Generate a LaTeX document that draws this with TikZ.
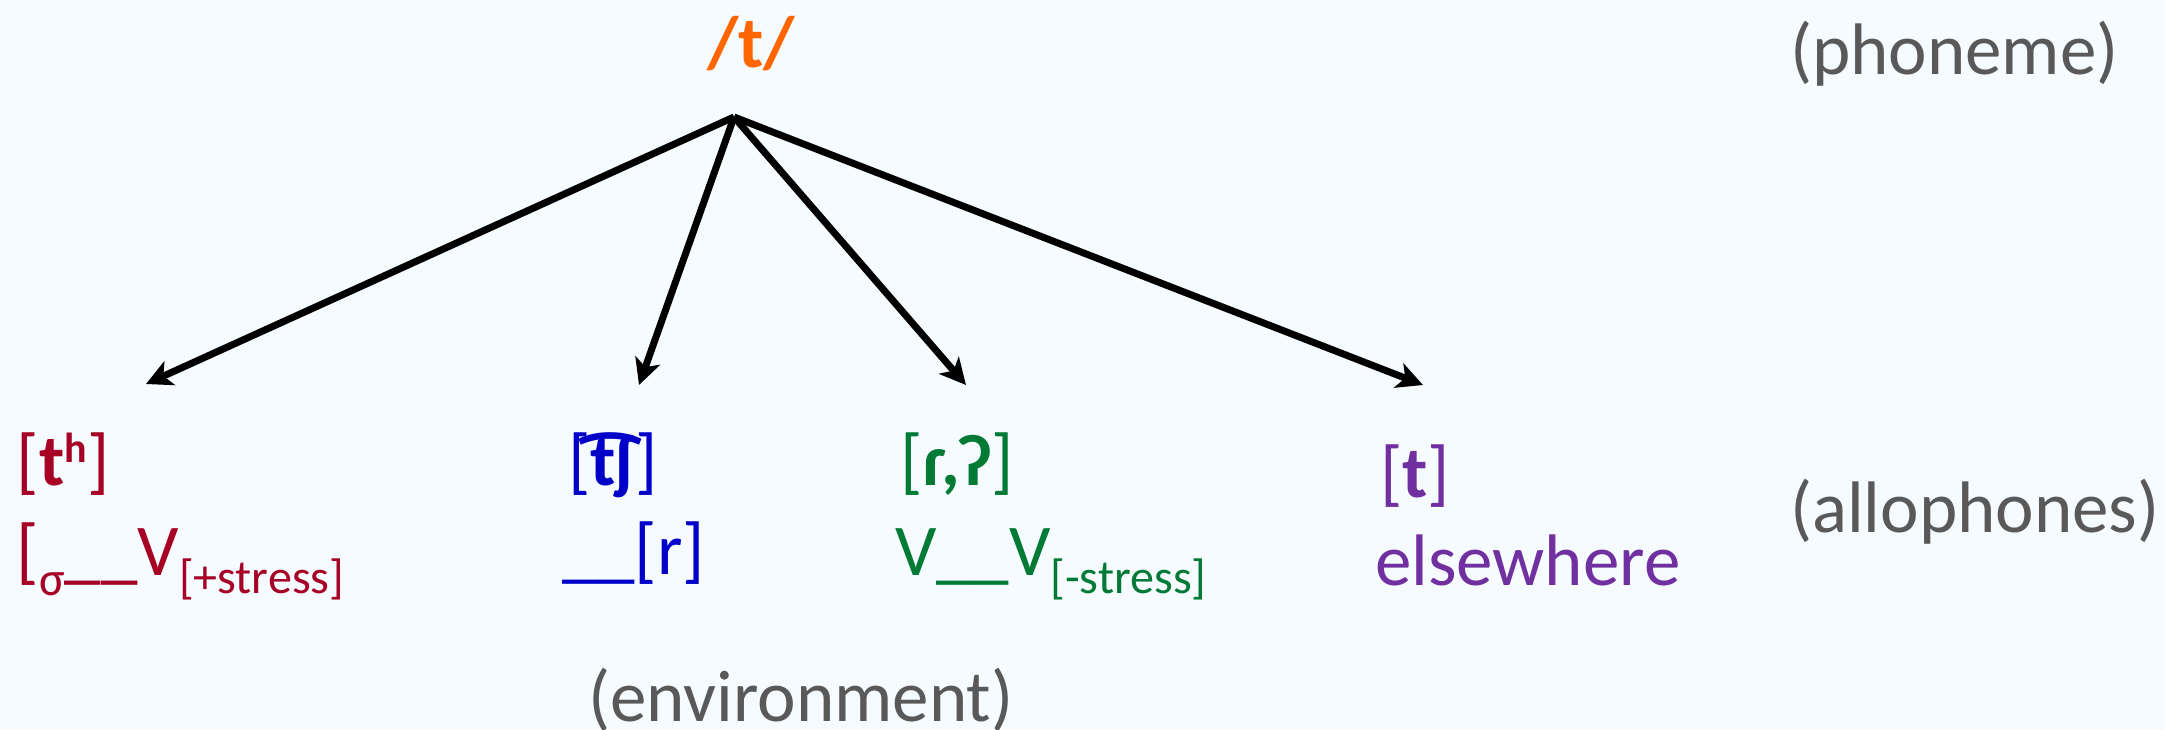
\documentclass[tikz,border=0pt]{standalone}
\usepackage{fontspec}
\setmainfont{Carlito}
\usetikzlibrary{arrows.meta}
\definecolor{bg}{RGB}{246,251,255}
\definecolor{cred}{RGB}{166,0,36}
\definecolor{cblue}{RGB}{0,0,200}
\definecolor{cgreen}{RGB}{0,122,52}
\definecolor{cpurple}{RGB}{112,48,160}
\definecolor{corange}{RGB}{255,102,0}
\definecolor{cgray}{RGB}{89,89,89}
\newcommand{\lowsub}[2]{\raisebox{#1}{\fontsize{24}{24}\selectfont #2}}
\begin{document}
\begin{tikzpicture}[x=0.5pt,y=-0.5pt,
  txt/.style={anchor=base west,inner sep=0pt,outer sep=0pt,font=\fontsize{36.5}{40}\selectfont},
  conn/.style={line width=3.5pt,-{Stealth[length=13pt,width=13pt,inset=3.5pt]}}]
\fill[bg] (0,0) rectangle (2165,729);
\useasboundingbox (0,0) rectangle (2165,729);
% labels
\node[txt,text=cgray] (phon) at (1790,74) {(phoneme)};
\node[txt,text=cgray] (allo) at (1790,532) {(allophones)};
\node[txt,text=cgray] (env) at (588,721) {(environment)};
% phoneme
\node[txt,text=corange] (t) at (707,67) {\textbf{/t/}};
% allophones
\node[txt,text=cred] (th) at (17,485) {[\textbf{t\raisebox{11.5pt}{\fontsize{21}{21}\selectfont h}}]};
\node[txt,text=cred] (thenv) at (17,575) {[\lowsub{-10pt}{σ}\_\_V\lowsub{-9pt}{[+stress]}};
\node[txt,text=cblue] (tsh) at (568,485) {[\textbf{t͡ʃ}]};
\node[txt,text=cblue] (tshenv) at (562,574) {\_\_[r]};
\node[txt,text=cgreen] (flap) at (900,485) {[\textbf{ɾ,ʔ}]};
\node[txt,text=cgreen] (flapenv) at (895,575) {V\_\_V\lowsub{-9pt}{[-stress]}};
\node[txt,text=cpurple] (tt) at (1380,497) {[\textbf{t}]};
\node[txt,text=cpurple] (ttenv) at (1375,585) {elsewhere};
% connectors
\coordinate (apex) at (734,117);
\coordinate (tipA) at (146,384);
\coordinate (tipB) at (639,385);
\coordinate (tipC) at (966,385);
\coordinate (tipD) at (1423,385);
\draw[conn] (apex) -- (tipA);
\draw[conn] (apex) -- (tipB);
\draw[conn] (apex) -- (tipC);
\draw[conn] (apex) -- (tipD);
\end{tikzpicture}
\end{document}
